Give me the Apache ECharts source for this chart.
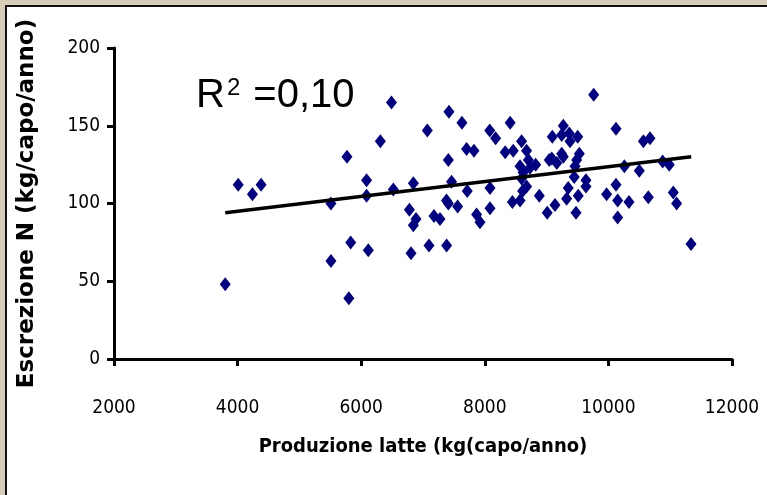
<!DOCTYPE html>
<html lang="it">
<head>
  <meta charset="UTF-8">
  <title>Escrezione N vs produzione latte</title>
  <style>
    html, body { margin: 0; padding: 0; }
    body { width: 767px; height: 495px; background: #d8cdb9; position: relative; overflow: hidden; }
    #panel { position: absolute; left: 5px; top: 5px; width: 780px; height: 510px; background: #fff; border: 2px solid #111; }
    #chart { position: absolute; left: 0; top: 0; width: 767px; height: 495px; }
  </style>
  <script src="https://cdn.jsdelivr.net/npm/echarts@6/dist/echarts.min.js"></script>
</head>
<body>
  <div id="panel"></div>
  <div id="chart"></div>
  <script>
    // produzione latte (kg/capo/anno), escrezione N (kg/capo/anno)
    var puntiX = [4010, 4240, 4380, 3800, 5770, 5510, 5830, 5510, 5800,
      6490, 6310, 7070, 7420, 7630, 8080, 8175, 8410, 8595, 7705, 7825, 7410, 8330, 8460, 8676,
      8570, 8705, 8823, 8621, 8731, 9043, 6087, 6087, 6520, 6844, 7462, 7716, 8084, 8595, 8612,
      8676, 8882, 6780, 6887, 6844, 7380, 7410, 7560, 7178, 7275, 7867, 7922, 8084, 8447, 8570,
      6115, 6806, 7097, 7382,
      9762, 10123, 9270, 9092, 9244, 9367, 9503, 9379, 10566, 10673, 9084, 9165, 9244, 9270,
      9486, 9530, 9460, 10258, 10500, 10878, 10985, 9447, 9637, 9637, 9350, 9324, 9512, 9971,
      10123, 10150, 10333, 10646, 11050, 11104, 9136, 9010, 9476, 10150, 11337];
    var puntiY = [112, 106, 112, 48, 130, 100, 75, 63, 39,
      165, 140, 147, 159, 152, 147, 142, 152, 140, 135, 134, 128, 133, 134, 134,
      124, 128, 125, 120, 123, 128, 115, 105, 109, 113, 114, 108, 110, 116, 108,
      111, 105, 96, 90, 86, 102, 100, 98, 92, 90, 93, 88, 97, 101, 102,
      70, 68, 73, 73,
      170, 148, 150, 143, 144, 145, 143, 140, 140, 142, 129, 126, 132, 130,
      128, 132, 124, 124, 121, 127, 125, 117, 115, 111, 110, 103, 105, 106,
      112, 102, 101, 104, 107, 100, 99, 94, 94, 91, 74];
    // retta di tendenza (estremi)
    var trendX = [3800, 11340];
    var trendY = [94, 130];
    var xTicks = [2000, 4000, 6000, 8000, 10000, 12000];
    var yTicks = [0, 50, 100, 150, 200];

    var punti = puntiX.map(function (x, i) { return [x, puntiY[i]]; });
    var trend = trendX.map(function (x, i) { return [x, trendY[i]]; });

    var stretto = '"DejaVu Sans Condensed", "Liberation Sans", sans-serif';
    var chart = echarts.init(document.getElementById('chart'));
    var asse = { lineStyle: { color: '#000', width: 3 } };
    chart.setOption({
      animation: false,
      backgroundColor: 'transparent',
      grid: { left: 114, right: 35, top: 48, bottom: 136 },
      xAxis: {
        type: 'value',
        min: xTicks[0], max: xTicks[xTicks.length - 1], interval: 2000,
        axisLine: asse,
        axisTick: { length: 7, lineStyle: { color: '#000', width: 3 } },
        splitLine: { show: false },
        axisLabel: { margin: 40, color: '#000', fontFamily: stretto, fontSize: 19, formatter: function (v) { return String(v); } },
        name: 'Produzione latte (kg(capo/anno)',
        nameLocation: 'middle',
        nameGap: 78,
        nameTextStyle: { color: '#000', fontFamily: stretto, fontWeight: 'bold', fontSize: 20 }
      },
      yAxis: {
        type: 'value',
        min: yTicks[0], max: yTicks[yTicks.length - 1], interval: 50,
        axisLine: asse,
        axisTick: { length: 7, lineStyle: { color: '#000', width: 3 } },
        splitLine: { show: false },
        axisLabel: { margin: 14, color: '#000', fontFamily: stretto, fontSize: 19 },
        name: 'Escrezione N (kg/capo/anno)',
        nameLocation: 'middle',
        nameGap: 75,
        nameTextStyle: { color: '#000', fontFamily: 'DejaVu Sans', fontWeight: 'bold', fontSize: 23 }
      },
      graphic: [{
        type: 'text', left: 196, top: 76,
        style: {
          text: '{a|R}{s|2}{a| =0,10}',
          rich: {
            a: { fontFamily: 'Liberation Sans', fontSize: 40, fill: '#000', verticalAlign: 'bottom' },
            s: { fontFamily: 'Liberation Sans', fontSize: 24, fill: '#000', verticalAlign: 'top', padding: [0, 2, 14, 2] }
          }
        }
      }],
      series: [{
        type: 'line',
        data: trend,
        symbol: 'none',
        lineStyle: { color: '#000', width: 3.5 },
        z: 3
      }, {
        type: 'scatter',
        data: punti,
        symbol: 'diamond',
        symbolSize: [11, 14],
        itemStyle: { color: '#000080', opacity: 1 },
        z: 2
      }]
    });
  </script>
</body>
</html>
